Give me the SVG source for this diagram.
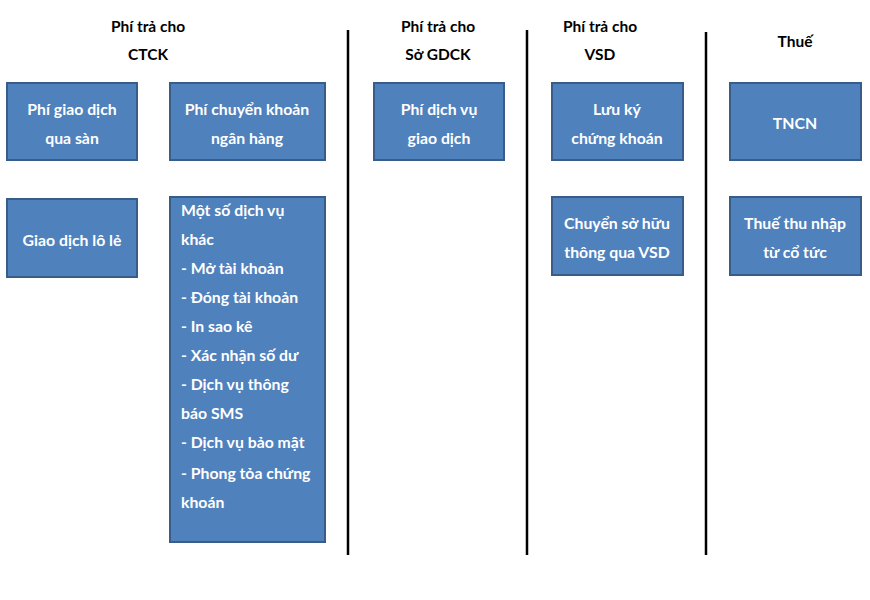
<svg xmlns="http://www.w3.org/2000/svg" width="870" height="600" viewBox="0 0 870 600">
<style>
.box{fill:#4F81BD;stroke:#385D8A;stroke-width:2}
.t{font-family:Lato,"Open Sans","Liberation Sans",sans-serif;font-weight:bold;font-size:15.8px;fill:#fff;text-anchor:middle}
.l{text-anchor:start}
.h{font-family:Lato,"Open Sans","Liberation Sans",sans-serif;font-weight:bold;font-size:15.5px;fill:#000;text-anchor:middle}
.sep{stroke:#000;stroke-width:2.5}
</style>
<rect width="870" height="600" fill="#fff"/>
<g id="headers">
<text class="h" x="148" y="32">Phí trả cho</text>
<text class="h" x="148" y="60">CTCK</text>
<text class="h" x="438" y="32">Phí trả cho</text>
<text class="h" x="438" y="60">Sở GDCK</text>
<text class="h" x="600" y="32">Phí trả cho</text>
<text class="h" x="600" y="60">VSD</text>
<text class="h" x="795" y="47">Thuế</text>
</g>
<g id="connectors">
<line class="sep" x1="348" y1="30" x2="348" y2="555"/>
<line class="sep" x1="527" y1="30" x2="527" y2="555"/>
<line class="sep" x1="706" y1="32" x2="706" y2="555"/>
</g>
<g id="phi-giao-dich">
<rect class="box" x="7" y="83" width="130" height="77"/>
<text class="t" x="72" y="115">Phí giao dịch</text>
<text class="t" x="72" y="144">qua sàn</text>
</g>
<g id="phi-chuyen-khoan">
<rect class="box" x="170" y="83" width="155" height="77"/>
<text class="t" x="247" y="115">Phí chuyển khoản</text>
<text class="t" x="247" y="144">ngân hàng</text>
</g>
<g id="giao-dich-lo-le">
<rect class="box" x="7" y="199" width="130" height="78"/>
<text class="t" x="72" y="246">Giao dịch lô lẻ</text>
</g>
<g id="dich-vu-khac">
<rect class="box" x="170" y="197" width="155" height="345"/>
<text class="t l" x="181" y="216">Một số dịch vụ</text>
<text class="t l" x="181" y="245">khác</text>
<text class="t l" x="181" y="274">- Mở tài khoản</text>
<text class="t l" x="181" y="303">- Đóng tài khoản</text>
<text class="t l" x="181" y="332">- In sao kê</text>
<text class="t l" x="181" y="361">- Xác nhận số dư</text>
<text class="t l" x="181" y="390">- Dịch vụ thông</text>
<text class="t l" x="181" y="419">báo SMS</text>
<text class="t l" x="181" y="448">- Dịch vụ bảo mật</text>
<text class="t l" x="181" y="479">- Phong tỏa chứng</text>
<text class="t l" x="181" y="508">khoán</text>
</g>
<g id="phi-dich-vu-giao-dich">
<rect class="box" x="374" y="83" width="130" height="77"/>
<text class="t" x="439" y="115">Phí dịch vụ</text>
<text class="t" x="439" y="144">giao dịch</text>
</g>
<g id="luu-ky">
<rect class="box" x="552" y="83" width="131" height="77"/>
<text class="t" x="617" y="115">Lưu ký</text>
<text class="t" x="617" y="144">chứng khoán</text>
</g>
<g id="chuyen-so-huu">
<rect class="box" x="552" y="197" width="131" height="78"/>
<text class="t" x="617" y="229">Chuyển sở hữu</text>
<text class="t" x="617" y="258">thông qua VSD</text>
</g>
<g id="tncn">
<rect class="box" x="730" y="83" width="131" height="77"/>
<text class="t" x="795" y="129">TNCN</text>
</g>
<g id="thue-co-tuc">
<rect class="box" x="730" y="197" width="131" height="78"/>
<text class="t" x="795" y="229">Thuế thu nhập</text>
<text class="t" x="795" y="258">từ cổ tức</text>
</g>
</svg>
